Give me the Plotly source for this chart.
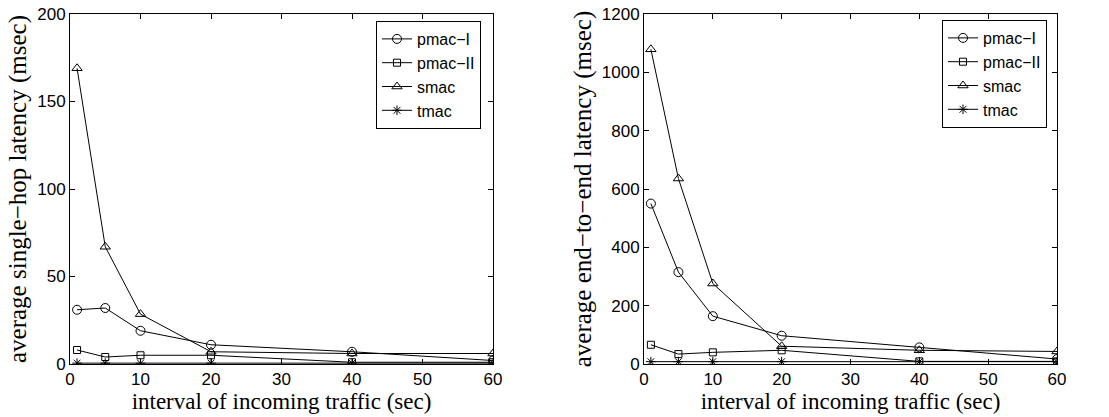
import plotly.graph_objects as go

# Traffic interval (sec)
intervals = [1, 5, 10, 20, 40, 60]

# Average single-hop latency (msec)
hop_pmac1 = [31, 32, 19, 11, 7, 2]
hop_pmac2 = [8, 4, 5, 5, 1, 1]
hop_smac = [169, 67, 28.5, 7, 6, 6]
hop_tmac = [0.5, 0.5, 0.5, 0.5, 0.5, 0.5]

# Average end-to-end latency (msec)
e2e_pmac1 = [550, 315, 164, 97, 57, 17]
e2e_pmac2 = [66, 34, 40, 47, 9, 9]
e2e_smac = [1079, 636, 276, 61, 47, 43]
e2e_tmac = [8, 8, 8, 8, 8, 8]

series_names = ["pmac\u2212I", "pmac\u2212II", "smac", "tmac"]
symbols = ["circle-open", "square-open", "triangle-up-open", "asterisk-open"]
sizes = [9, 7, 9, 8]

W, H = 1109, 417
ax_top, ax_bot = 14, 364
left_x = (70, 493)
right_x = (644, 1057)

fig = go.Figure()

sans = "Liberation Sans, Arial, Helvetica, sans-serif"
serif = "Liberation Serif, Times New Roman, serif"

for panel, data, legend_id in [
    ("x", [hop_pmac1, hop_pmac2, hop_smac, hop_tmac], "legend"),
    ("x2", [e2e_pmac1, e2e_pmac2, e2e_smac, e2e_tmac], "legend2"),
]:
    for name, vals, sym, sz in zip(series_names, data, symbols, sizes):
        fig.add_trace(go.Scatter(
            x=intervals, y=vals, name=name, mode="lines+markers",
            xaxis=panel, yaxis="y" if panel == "x" else "y2",
            line=dict(color="black", width=1),
            marker=dict(symbol=sym, size=sz, color="black",
                        line=dict(color="black", width=1)),
            legend=legend_id,
        ))

axis_common = dict(
    showline=True, linecolor="black", linewidth=1, mirror="ticks",
    ticks="inside", ticklen=5, tickcolor="black", showgrid=False,
    zeroline=False, automargin=False,
    tickfont=dict(family=sans, size=17, color="black"),
)

xtitle_font = dict(family=serif, size=23, color="black")
ytitle_font = dict(family=serif, size=25, color="black")
ydom = [(H - ax_bot) / H, (H - ax_top) / H]

fig.update_layout(
    width=W, height=H,
    margin=dict(l=0, r=0, t=0, b=0),
    paper_bgcolor="white", plot_bgcolor="white",
    xaxis=dict(domain=[left_x[0] / W, left_x[1] / W], range=[0, 60],
               tickvals=[0, 10, 20, 30, 40, 50, 60], anchor="y",
               title=dict(text="interval of incoming traffic (sec)",
                          font=xtitle_font, standoff=0),
               **axis_common),
    yaxis=dict(domain=ydom, range=[0, 200], tickvals=[0, 50, 100, 150, 200],
               anchor="x",
               title=dict(text="average single\u2212hop latency (msec)",
                          font=ytitle_font, standoff=3),
               **axis_common),
    xaxis2=dict(domain=[right_x[0] / W, right_x[1] / W], range=[0, 60],
                tickvals=[0, 10, 20, 30, 40, 50, 60], anchor="y2",
                title=dict(text="interval of incoming traffic (sec)",
                           font=xtitle_font, standoff=0),
                **axis_common),
    yaxis2=dict(domain=ydom, range=[0, 1200],
                tickvals=[0, 200, 400, 600, 800, 1000, 1200], anchor="x2",
                title=dict(text="average end\u2212to\u2212end latency (msec)",
                           font=ytitle_font, standoff=3),
                **axis_common),
    legend=dict(x=481 / W, y=(H - 21) / H, xanchor="right", yanchor="top",
                bgcolor="white", bordercolor="black", borderwidth=1,
                font=dict(family=sans, size=16, color="black"),
                tracegroupgap=0, itemwidth=30),
    legend2=dict(x=1047 / W, y=(H - 20) / H, xanchor="right", yanchor="top",
                 bgcolor="white", bordercolor="black", borderwidth=1,
                 font=dict(family=sans, size=16, color="black"),
                 tracegroupgap=0, itemwidth=30),
)

fig.write_html("out.html")
